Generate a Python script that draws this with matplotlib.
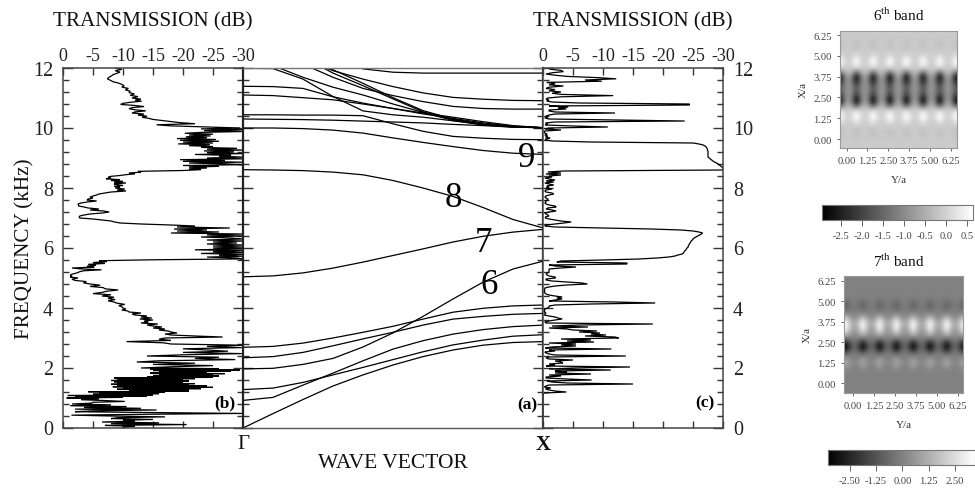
import numpy as np
import matplotlib
matplotlib.use('Agg')
import matplotlib.pyplot as plt
from matplotlib.colors import LinearSegmentedColormap
from matplotlib.ticker import MultipleLocator

plt.rcParams['font.family'] = ['Liberation Serif', 'DejaVu Serif']
plt.rcParams['mathtext.fontset'] = 'custom'
plt.rcParams['mathtext.rm'] = 'Liberation Serif'

W, H = 975, 489

## band structure, frequency in kHz along Gamma -> X
k = [0, .1, .2, .3, .4, .5, .6, .7, .8, .9, 1]
band1 = [0, .48, .95, 1.4, 1.77, 2.1, 2.38, 2.6, 2.76, 2.85, 2.88]
band2 = [.92, 1.02, 1.43, 1.83, 2.24, 2.63, 2.91, 3.13, 3.28, 3.38, 3.43]
band3 = [1.28, 1.33, 1.52, 1.77, 2.02, 2.28, 2.54, 2.77, 2.93, 3.06, 3.11]
band4 = [1.97, 1.99, 2.12, 2.32, 2.7, 3.17, 3.72, 4.3, 4.86, 5.3, 5.56]
band5 = [2.34, 2.38, 2.52, 2.74, 2.97, 3.19, 3.43, 3.63, 3.72, 3.79, 3.82]
band6 = [2.69, 2.72, 2.83, 3.0, 3.19, 3.39, 3.63, 3.86, 3.99, 4.07, 4.1]
band7 = [5.04, 5.07, 5.17, 5.33, 5.53, 5.75, 5.97, 6.2, 6.39, 6.53, 6.62]
band8 = [8.61, 8.6, 8.58, 8.53, 8.44, 8.25, 8.0, 7.72, 7.35, 6.95, 6.67]
band9 = [10, 10, 9.98, 9.93, 9.83, 9.67, 9.52, 9.38, 9.25, 9.16, 9.12]
band10 = [10.3, 10.29, 10.28, 10.26, 10.23, 10.2, 10.17, 10.12, 10.08, 10.03, 10.01]
band11 = [10.44, 10.44, 10.43, 10.43, 10.41, 10.14, 9.89, 9.72, 9.66, 9.62, 9.61]
band12 = [11.99, 11.98, 11.63, 11.05, 10.57, 10.44, 10.36, 10.24, 10.12, 10.04, 10.01]
band13 = [11.1, 11.08, 11.01, 10.94, 10.8, 10.65, 10.5, 10.36, 10.21, 10.08, 10.01]
band14 = [11.39, 11.38, 11.32, 11.04, 10.83, 10.65, 10.47, 10.32, 10.17, 10.06, 10.01]
band15 = [14, 13.5, 13, 12.41, 11.97, 11.86, 11.83, 11.83, 11.83, 11.83, 11.83]
band16 = [14, 13, 12.3, 11.91, 11.63, 11.38, 11.17, 11.02, 10.96, 10.92, 10.91]
band17 = [14, 13, 12.13, 11.69, 11.32, 11.08, 10.88, 10.72, 10.65, 10.63, 10.63]
band18 = [14, 13, 12.36, 11.83, 11.41, 10.97, 10.54, 10.28, 10.12, 10.04, 10.01]
band19 = [14, 13, 12.47, 11.94, 11.49, 11.01, 10.58, 10.3, 10.13, 10.04, 10.01]
band20 = [13, 12.08, 11.69, 11.36, 11.1, 10.8, 10.52, 10.25, 10.1, 10.03, 10.01]
bands = [band1, band2, band3, band4, band5, band6, band7, band8, band9, band10,
         band11, band12, band13, band14, band15, band16, band17, band18, band19, band20]

## transmission (b), attenuation in dB, one list per kHz from the top down
b_11 = [8.7, 9.8, 8.7, 9.5, 8.9, 8.3, 8, 7.6, 7.4, 7.9, 8.3, 9.2, 9.8, 10.2, 9.8, 10.9, 10.4, 11.2, 11, 11.9, 11.2, 12.5]
b_10 = [11.5, 13, 12, 13.1, 11.2, 10, 9.6, 12, 13.5, 11.5, 11, 12, 13.8, 12, 11.5, 13.5, 12.5, 14, 13.2, 14.3, 15, 16.5, 18, 19.5, 22, 15.6, 18, 24]
b_9 = [29.5, 23, 30, 23.5, 29.8, 23, 20.3, 25, 21, 24.6, 20.5, 24, 19, 25.5, 19.5, 26, 20, 25, 19.2, 24.5, 21, 25, 23, 29, 24, 30, 23.5, 28.5, 24, 30, 22, 28, 26, 30]
b_8 = [24, 30, 19.5, 27, 20, 30, 21, 27, 30, 20, 26, 21, 24, 21, 23, 20, 12.5, 13, 11, 12, 10.5, 9.5, 8, 7.5, 8, 7.2, 9.5, 8, 10, 8.5, 10.5, 8.5, 9, 10, 8.5, 9.5]
b_7 = [8.7, 10.3, 9, 10.5, 8, 7, 6, 5.6, 5, 4.5, 5, 4.2, 4, 5.6, 4, 3, 2.5, 2.6, 2.6, 3.5, 4.2, 6, 4.5, 6.8, 7.7, 6.5, 4.5, 3.5, 2.8, 2.7]
b_6 = [2.8, 5, 6.5, 8, 8.6, 9.5, 13, 18, 22, 19, 27.8, 18.5, 24, 19, 26, 18, 30, 24, 30, 23, 28, 30, 24, 30, 25, 29, 24, 30, 25, 30]
b_5 = [25, 30, 22, 30, 25, 30, 23, 30, 26, 30, 24, 29, 30, 14.5, 6, 7.3, 5, 7, 4.2, 5.5, 4, 5.2, 1.5, 3, 6.4, 3.5, 2.8, 2.5, 2, 1.4, 1.2, 1.5, 1.2]
b_4 = [2.5, 1.5, 2, 3.9, 3.4, 4.5, 6.2, 4.5, 6.7, 7, 9.2, 7.3, 6.5, 5, 8, 6.5, 8.5, 7.5, 8.7, 7.5, 8.5, 9, 10.3, 9.3, 9.8]
b_3 = [10, 10.5, 9.8, 10.8, 11, 13, 11.5, 12, 14, 13, 14.8, 12.8, 15, 13.5, 14.2, 13, 15.8, 14, 15, 16.5, 15, 17, 16, 17.5, 18, 19, 17, 18, 22, 26.6]
b_2 = [17, 16, 18, 10.6, 16.7, 18, 30, 24, 29.8, 20, 24, 27.5, 20, 29.8, 20, 14, 26, 22, 28.7, 16, 12.3, 22, 15, 25, 18]
b_1 = [13, 26, 14.5, 29.5, 15, 28, 16, 24, 14.5, 27, 16, 25, 15, 26, 14, 25, 8.5, 22, 9, 20, 8, 21, 8.5, 20, 9, 22, 8, 21, 9, 24, 8.3, 25, 10, 23, 9, 21, 11, 21, 4.2, 17, 6, 16, 5, 15, .8, 14, 2, 10]
b_0 = [.6, 6, 3, 7, 10.3, 5, 4.7, 1.5, 8, 1.2, 10.6, 3.5, 13, 2, 15.6, 5, 2, 15, 30, 14, 1.4, 8, 17, 9, 8, 15, 10, 12, 6.5, 16, 8, 20.6, 7, 12, 10]
trans_b = [b_11, b_10, b_9, b_8, b_7, b_6, b_5, b_4, b_3, b_2, b_1, b_0]

## transmission (c)
c_11 = [1, 1.2, 3, 3.4, 1.5, .5, 2, 4, 9, 12.2, 7, 9.8, .6, 2, 1, 3.4, 1, .5, 2, 1, 3, 1.5, 3, 11.7, 3]
c_10 = [.8, .5, 1, .6, 1.5, 6, 24.4, 24.4, 1, 4.2, 2.5, 3.9, 1, 1, 2, 12, 2, 1, .5, .8, .3, 1, 12, 23.6, 2, .4, .8, .4, 5, 10.8]
c_9 = [1, .3, 3, .3, .2, .3, .7, .3, .8, .4, 1.2, .4, .5, 1.5, 8, 25, 26, 26.7, 27, 27.2, 27.3, 27.4, 27.4, 27.5, 27.5, 27.5, 27.5, 27.5, 27.5, 27.5]
c_8 = [27.7, 27.9, 28.1, 28.3, 28.6, 28.9, 29.2, 29.4, 29.6, 29.8, 30, 30, 30, 3.4, .8, 3, .5, 3, 1, 1.5, .3, 1, 2, .5, 1.8, .3, 1, 1.8, .6, 1]
c_7 = [.5, 1.5, .5, .3, .5, 1.5, 1.8, 1, .5, .3, .5, .8, .8, .4, .5, .3, .5, 1, 2, 2.2, .8, .5, 1.5, 2.2, 1, .3, .5, .8, 1, .4]
c_6 = [.4, 1, 2, 3, 4.7, 3.5, 2, .5, .3, 2, 10, 18, 23, 25, 26, 26.6, 26.4, 26.1, 25.8, 25.5, 25.2, 25, 24.9, 24.7, 24.6, 24.5, 24.4, 24.3, 24.2, 24.2]
c_5 = [24, 23.9, 23.8, 23.6, 23.5, 23.4, 23.2, 22.5, 22, 21, 19, 16, 10, 3, 2.3, 14, 14, 1, 2, 5.5, 3, 1, 1, 1, 1, .7, .5, .7, 1, 2]
c_4 = [2.1, .5, .5, 1.5, 4, 6.5, 7.4, 4, 2, 1, .3, .3, .2, .3, .2, .3, .5, 1, 2, 3.2, 2.3, 3.2, 2, 1, 12, 18.7, 8, 2, 1, 1]
c_3 = [.8, .3, .2, .3, .2, .5, .3, .2, 1, 2, 2.5, 3.2, 2, 1, .3, .5, 18.3, 6, 1.5, 7.5, 1, 4, 5, 9, 6, 9.5, 8, 10.5, 7, 12]
c_2 = [12.6, 3, 8, 4, 8.5, 1, 5.5, 3, 5.5, 1.5, .4, 11.4, 1, 2, .3, .5, 1, 2, 13.8, 1, .5, 1, 5, 2, 3, 3.3, 1, 2, .5, 14.5]
c_1 = [5, 1, 11.3, 2, 4, 2, 8, 1, 3, .5, .5, 4, 8.1, .7, 1.5, 4, 15, 1, .5, .2, 1.3, .4, 1, 2, 3.9, .2, 0, 0, 0, 0]
c_0 = [0, 0]
trans_c = [c_11, c_10, c_9, c_8, c_7, c_6, c_5, c_4, c_3, c_2, c_1, c_0]

db_ticks = [0, 5, 10, 15, 20, 25, 30]
db_labels = ['0', '-5', '-10', '-15', '-20', '-25', '-30']
freq_ticks = [0, 2, 4, 6, 8, 10, 12]

## field maps, value along X/a at a blob column and at the column between blobs
x_rows = [-.5, -.25, 0, .25, .5, .75, 1, 1.25, 1.5, 1.75, 2, 2.25, 2.5, 2.75, 3, 3.25, 3.5, 3.75, 4, 4.25, 4.5, 4.75, 5, 5.25, 5.5, 5.75, 6, 6.25, 6.5]
band6_blob = [-.1, -.1, -.15, -.25, -.25, -.1, .2, .64, .6, 0, -1.5, -2.9, -2.6, -2, -1.8, -2, -2.6, -2.8, -1.5, -.1, .55, .64, .2, -.1, -.2, -.25, -.2, -.1, -.1]
band6_gap = [-.1, -.1, -.1, -.1, -.1, -.1, -.1, -.05, -.05, -.1, -.4, -.6, -.8, -.8, -.8, -.8, -.8, -.6, -.3, -.1, -.1, -.1, -.1, -.1, -.1, -.1, -.1, -.1, -.1]
band7_blob = [0, 0, 0, 0, 0, .1, .6, 1.1, .6, -.3, -2.2, -3.5, -2.4, -.3, 1.5, 2.8, 3.45, 3.2, 1.7, .3, -.5, -.9, -.5, -.1, 0, 0, 0, 0, 0]
band7_gap = [0, 0, 0, 0, 0, 0, 0, .1, 0, -.1, -.4, -.7, -.4, 0, .3, .6, .9, .9, .3, 0, -.1, -.1, -.1, 0, 0, 0, 0, 0, 0]
map_ticks = [0, 1.25, 2.5, 3.75, 5, 6.25]
map_labels = ['0.00', '1.25', '2.50', '3.75', '5.00', '6.25']
cbar6_ticks = [-2.5, -2, -1.5, -1, -.5, 0, .5]
cbar6_labels = ['-2.5', '-2.0', '-1.5', '-1.0', '-0.5', '0.0', '0.5']
cbar7_ticks = [-2.5, -1.25, 0, 1.25, 2.5]
cbar7_labels = ['-2.50', '-1.25', '0.00', '1.25', '2.50']


def px_axes(x0, y0, x1, y1):
    # pixel box, y measured from the top of the image
    return fig.add_axes([x0 / W, 1 - y1 / H, (x1 - x0) / W, (y1 - y0) / H])


def curve(blocks):
    freq, att = [], []
    for i, vals in enumerate(blocks):
        freq.extend(np.linspace(12 - i, 11 - i, len(vals), endpoint=False))
        att.extend(vals)
    freq.append(0)
    att.append(att[-1])
    return np.array(att), np.array(freq)


def style_spines(ax, color='#444444', lw=1.1):
    for s in ax.spines.values():
        s.set_color(color)
        s.set_linewidth(lw)


def freq_axis(ax, left, right):
    ax.set_ylim(0, 12)
    ax.set_yticks(freq_ticks)
    ax.yaxis.set_minor_locator(MultipleLocator(0.4))
    ax.tick_params(axis='y', which='major', direction='in', length=7, width=1, color='#333333',
                   left=left, right=right, labelleft=False, labelright=False)
    ax.tick_params(axis='y', which='minor', direction='in', length=4, width=1, color='#333333',
                   left=left, right=right)


def trans_axis(ax, blocks):
    att, freq = curve(blocks)
    ax.plot(att, freq, color='black', lw=0.9, solid_joinstyle='miter')
    ax.set_xlim(0, 30)
    ax.set_xticks(db_ticks)
    ax.set_xticklabels(db_labels, fontsize=13, color='#222222')
    ax.tick_params(axis='x', direction='in', length=5, width=1, color='#333333', top=True, bottom=True,
                   labeltop=True, labelbottom=False, pad=3)
    style_spines(ax)


def field_map(box, cbar_box, blob, gap, vmin, vmax, xlim, ylim, cticks, clabels, title, title_y, title_x):
    ax = px_axes(*box)
    blob = np.array(blob)
    gap = np.array(gap)
    shoulder = gap + .35 * (blob - gap)
    cols = [blob, shoulder, gap, shoulder] * 7 + [blob]
    field = np.column_stack(cols)
    im = ax.imshow(field, cmap=grey, vmin=vmin, vmax=vmax, origin='lower', aspect='auto',
                   interpolation='bicubic', extent=(-.525, 6.725, x_rows[0] - .125, x_rows[-1] + .125))
    ax.set_xlim(*xlim)
    ax.set_ylim(*ylim)
    ax.set_xticks(map_ticks)
    ax.set_xticklabels(map_labels, fontsize=7.6, color='#444444')
    ax.set_yticks(map_ticks)
    ax.set_yticklabels(map_labels, fontsize=7.6, color='#444444')
    ax.tick_params(length=2.5, width=.7, color='#666666', pad=3.5)
    ax.set_xlabel('Y/a', fontsize=8, color='#333333', labelpad=7)
    ax.set_ylabel('X/a', fontsize=8, color='#333333', labelpad=4)
    style_spines(ax, '#999999', .8)
    fig.text(title_x / W, 1 - title_y / H, title, fontsize=11, ha='center', va='center', color='#111111')

    cax = px_axes(*cbar_box)
    cb = fig.colorbar(im, cax=cax, orientation='horizontal')
    cb.set_ticks(cticks)
    cb.set_ticklabels(clabels)
    cax.tick_params(labelsize=7.6, labelcolor='#444444', length=4, width=.7, color='#666666', pad=4)
    cb.outline.set_edgecolor('#777777')
    cb.outline.set_linewidth(.8)


grey = LinearSegmentedColormap.from_list('grey', ['black', 'white'])

fig = plt.figure(figsize=(W / 100, H / 100), dpi=100)

# panel (b)
ax_b = px_axes(63, 69, 243, 429)
trans_axis(ax_b, trans_b)
freq_axis(ax_b, True, True)
for f in freq_ticks:
    fig.text(53 / W, 1 - (431 - f * 30) / H, str(f), fontsize=14.5, ha='right', va='center', color='#222222')
ax_b.text(.90, .07, '(b)', transform=ax_b.transAxes, fontsize=12.5, fontweight='bold', ha='center', va='center')

# panel (a)
ax_a = px_axes(243, 69, 543, 429)
for band in bands:
    ax_a.plot(k, band, color='black', lw=0.9)
ax_a.set_xlim(0, 1)
ax_a.set_xticks([])
freq_axis(ax_a, True, True)
style_spines(ax_a, '#222222', 1.6)
ax_a.spines['top'].set_color('#777777')
ax_a.spines['top'].set_linewidth(1)
ax_a.spines['bottom'].set_color('#555555')
ax_a.spines['bottom'].set_linewidth(1)
ax_a.text(.82, 4.77, '6', fontsize=25, ha='center', va='center')
ax_a.text(.80, 6.17, '7', fontsize=25, ha='center', va='center')
ax_a.text(.70, 7.67, '8', fontsize=25, ha='center', va='center')
ax_a.text(.945, 9.0, '9', fontsize=25, ha='center', va='center')
ax_a.text(.947, .8, '(a)', fontsize=12.5, fontweight='bold', ha='center', va='center')

# panel (c)
ax_c = px_axes(543, 69, 723, 429)
trans_axis(ax_c, trans_c)
freq_axis(ax_c, True, True)
for f in freq_ticks:
    fig.text(733 / W, 1 - (431 - f * 30) / H, str(f), fontsize=14.5, ha='left', va='center', color='#222222')
ax_c.text(.90, .07, '(c)', transform=ax_c.transAxes, fontsize=12.5, fontweight='bold', ha='center', va='center')

fig.text(153 / W, 1 - 22 / H, 'TRANSMISSION (dB)', fontsize=15.2, ha='center', va='center', color='#111111')
fig.text(633 / W, 1 - 22 / H, 'TRANSMISSION (dB)', fontsize=15.2, ha='center', va='center', color='#111111')
fig.text(25 / W, 1 - 249 / H, 'FREQUENCY (kHz)', fontsize=15.2, rotation=90, ha='center', va='center', color='#111111')
fig.text(393 / W, 1 - 464 / H, 'WAVE VECTOR', fontsize=15.5, ha='center', va='center', color='#111111')
fig.text(243 / W, 1 - 445 / H, '\u0393', fontsize=15, ha='center', va='center', color='#111111')
fig.text(543 / W, 1 - 445 / H, 'X', fontsize=15, fontweight='bold', ha='center', va='center', color='#111111')

# field maps
field_map((840, 32, 957, 149), (822, 206, 973, 221), band6_blob, band6_gap, -2.96, .64,
          (-.4, 6.64), (-.54, 6.5), cbar6_ticks, cbar6_labels, '6$^{\\mathrm{th}}$ band', 15, 899)
field_map((844, 277, 963, 394), (828, 451, 975, 466), band7_blob, band7_gap, -3.53, 3.45,
          (-.54, 6.56), (-.59, 6.55), cbar7_ticks, cbar7_labels, '7$^{\\mathrm{th}}$ band', 261, 899)

fig.savefig('out.png', dpi=100)
